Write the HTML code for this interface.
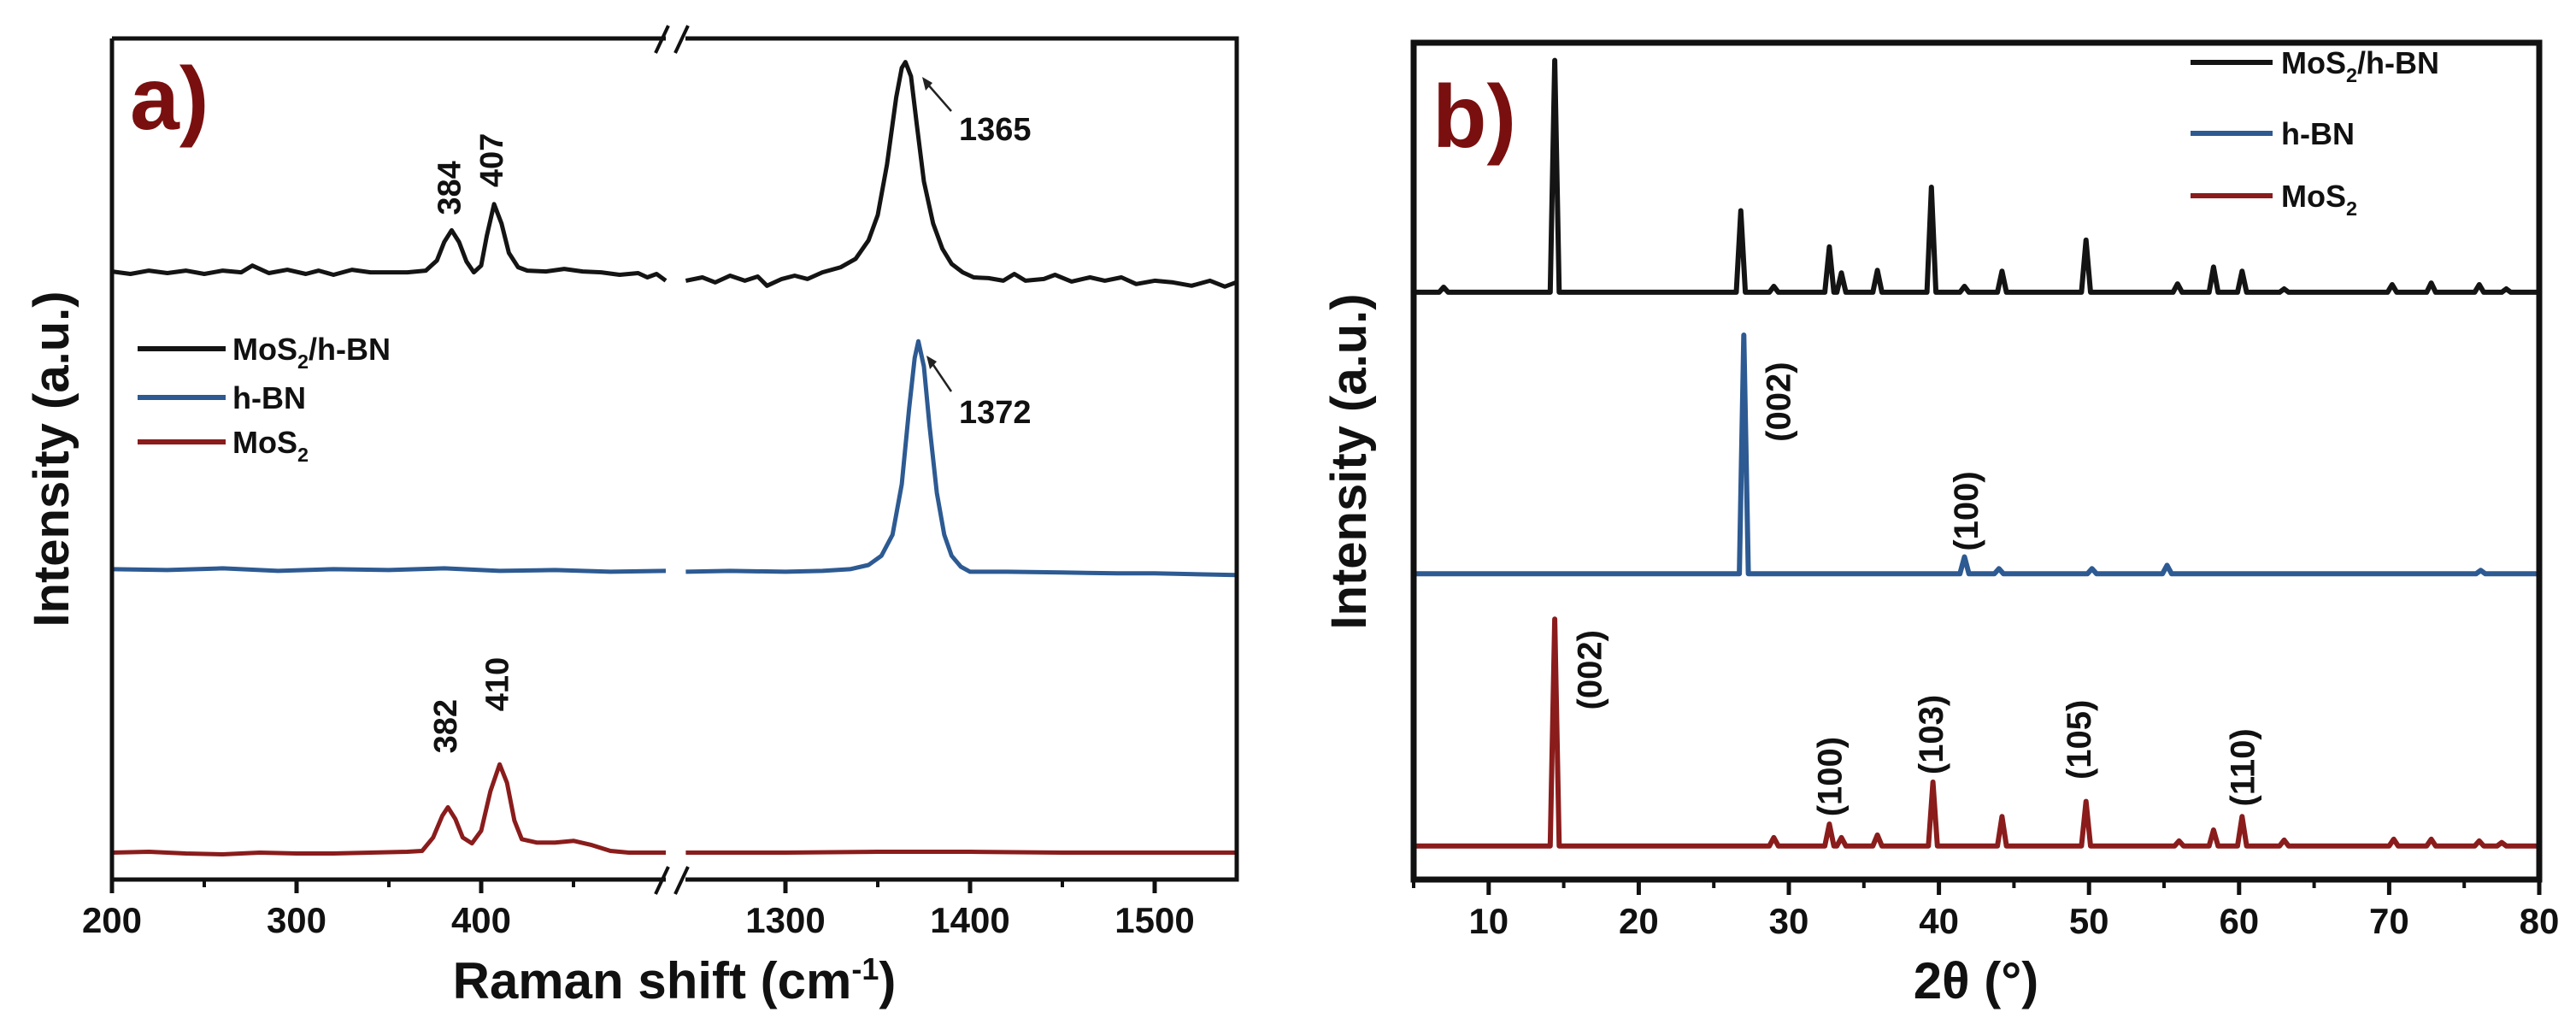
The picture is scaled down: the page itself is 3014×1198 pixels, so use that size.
<!DOCTYPE html>
<html><head><meta charset="utf-8"><style>
html,body{margin:0;padding:0;background:#fff;}
svg{display:block;font-family:"Liberation Sans",Arial,sans-serif;}
</style></head><body>
<svg id="fig" width="3014" height="1198" viewBox="0 0 3014 1198" xmlns="http://www.w3.org/2000/svg">
<rect width="3014" height="1198" fill="#fff"/>
<g id="pa"></g>
<g id="pb"></g>
</svg>
<script>
// ---------- Panel a data (Raman) ----------
const ramanTicks = [200, 300, 400, 1300, 1400, 1500];
const ramanMinorTicks = [250, 350, 450, 1350, 1450];
const blackLeftX = [200,210,220,230,240,250,260,270,276,285,295,305,312,320,330,340,350,360,370,376,380,384,388,392,396,400,403,407,411,415,420,425,435,445,455,465,475,485,490,495,500];
const blackLeftY = [723,720,724,721,724,720,724,722,730,721,725,720,724,719,725,722,722,722,724,736,758,772,758,735,722,730,765,803,780,745,728,724,723,726,723,722,719,721,716,720,712];
const blackRightX = [1246,1255,1262,1270,1278,1285,1290,1298,1305,1312,1320,1330,1338,1345,1350,1355,1360,1363,1365,1368,1371,1375,1380,1385,1390,1396,1402,1410,1418,1424,1430,1440,1446,1455,1465,1473,1482,1490,1500,1510,1520,1530,1538,1544];
const blackRightY = [712,716,710,718,712,717,706,714,718,714,722,728,738,760,790,850,930,965,972,955,900,830,780,750,732,722,716,715,712,720,712,714,719,711,716,712,716,708,712,710,706,712,705,710];
const blueLeftX = [200,230,260,290,320,350,380,410,440,470,500];
const blueLeftY = [369,368,370,367,369,368,370,367,368,366,367];
const blueRightX = [1246,1270,1300,1320,1335,1345,1352,1358,1363,1367,1370,1372,1375,1378,1382,1386,1390,1395,1400,1420,1450,1480,1500,1544];
const blueRightY = [366,367,366,367,369,374,385,410,470,560,620,640,610,540,460,410,385,372,366,366,365,364,364,362];
const redLeftX = [200,220,240,260,280,300,320,340,360,368,374,379,382,386,390,395,400,405,410,414,418,422,430,440,450,460,470,480,500];
const redLeftY = [32,33,31,30,32,31,31,32,33,34,50,76,86,72,50,43,58,105,137,115,70,48,44,44,46,41,34,32,32];
const redRightX = [1246,1300,1350,1400,1450,1500,1544];
const redRightY = [32,32,33,33,32,32,32];
const ramanLabels = ["384","407","382","410"];
const ramanLabelX = [384,407,382,410];
const ramanLabelV = [790,823,150,200];

// ---------- Panel b data (XRD) ----------
const xrdTicks = [10,20,30,40,50,60,70,80];
const xrdMinor = [5,15,25,35,45,55,65,75];
const compPeaksX = [7,14.4,26.8,29,32.7,33.5,35.9,39.5,41.7,44.2,49.8,55.9,58.3,60.2,63,70.2,72.8,76,77.8];
const compPeaksV = [705,975,796,706,753,722,725,824,706,724,761,709,729,724,703,708,710,708,703];
const compBase = 699;
const bnPeaksX = [27,41.7,44,50.2,55.2,76.1];
const bnPeaksV = [648,384,370,370,374,368];
const bnBase = 364;
const mosPeaksX = [14.4,29,32.7,33.5,35.9,39.6,44.2,49.8,56,58.3,60.2,63,70.3,72.8,76,77.5];
const mosPeaksV = [310,50,66,50,53,116,75,93,46,59,75,47,48,48,46,44];
const mosBase = 40;
const hklLabels = ["(002)","(100)","(002)","(100)","(103)","(105)","(110)"];
const hklX = [29.3,41.8,16.7,32.7,39.45,49.3,60.2];
const hklV = [521,391,202,75,125,119,87];

const NS = "http://www.w3.org/2000/svg";
function mk(tag, attrs, parent){const e=document.createElementNS(NS,tag);for(const k in attrs)e.setAttribute(k,attrs[k]);parent.appendChild(e);return e;}

// ===== Panel a =====
const pa = document.getElementById('pa');
const A = {l:131, r:1447, t:45, b:1029};
function xa(v){ return v<=500 ? 131 + (v-200)*2.16 : 919 + (v-1300)*2.16; }
function ya(v){ return A.b - v*0.984; }

function drawLine(g, xs, ys, xf, yf, color, w, name){
  let d='';
  for(let i=0;i<xs.length;i++){ d += (i?'L':'M') + xf(xs[i]).toFixed(1)+','+yf(ys[i]).toFixed(1); }
  const p = mk('path',{d:d,fill:'none',stroke:color,'stroke-width':w,'stroke-linejoin':'round'},g);
  
  
  return p;
}
const BLK='#141414', BLU='#2d5a92', RED='#8a1c1c';
drawLine(pa, blackLeftX, blackLeftY, xa, ya, BLK, 5, 'mos2-hbn-raman-low');
drawLine(pa, blackRightX, blackRightY, xa, ya, BLK, 5, 'mos2-hbn-raman-high');
drawLine(pa, blueLeftX, blueLeftY, xa, ya, BLU, 5, 'hbn-raman-low');
drawLine(pa, blueRightX, blueRightY, xa, ya, BLU, 5, 'hbn-raman-high');
drawLine(pa, redLeftX, redLeftY, xa, ya, RED, 5, 'mos2-raman-low');
drawLine(pa, redRightX, redRightY, xa, ya, RED, 5, 'mos2-raman-high');

const fa = mk('path',{d:`M${A.l},${A.t}H779 M802,${A.t}H${A.r}V${A.b}H802 M779,${A.b}H${A.l}Z`,fill:'none',stroke:'#111','stroke-width':5},pa);


mk('path',{d:`M${A.l},${A.b}V${A.t}`,stroke:'#111','stroke-width':5},pa);
['M767,1046L782,1014M790,1046L805,1014','M767,62L782,30M790,62L805,30'].forEach(d=>{
  const s=mk('path',{d:d,stroke:'#111','stroke-width':4},pa);
  
  
});
ramanTicks.forEach(v=>{
  mk('line',{x1:xa(v),x2:xa(v),y1:A.b,y2:A.b+16,stroke:'#111','stroke-width':5},pa);
  const t=mk('text',{x:xa(v),y:1091,'text-anchor':'middle','font-size':42,'font-weight':'bold',fill:'#111'},pa);
  t.textContent=v;
  
  
});
ramanMinorTicks.forEach(v=>{ mk('line',{x1:xa(v),x2:xa(v),y1:A.b,y2:A.b+9,stroke:'#111','stroke-width':4},pa); });

ramanLabels.forEach((s,i)=>{
  const x=xa(ramanLabelX[i])+10, y=ya(ramanLabelV[i]);
  const t=mk('text',{x:x,y:y,transform:`rotate(-90 ${x} ${y})`,'font-size':38,'font-weight':'bold',fill:'#111'},pa);
  t.textContent=s;
  
  
});
[[1113,130,1079,90,'1365',1122,164],[1113,458,1084,416,'1372',1122,495]].forEach(a=>{
  const l=mk('line',{x1:a[0],y1:a[1],x2:a[2]+6,y2:a[3]+8,stroke:'#222','stroke-width':2.5},pa);
  
  
  mk('path',{d:`M${a[2]},${a[3]} l4,16 l8,-9z`,fill:'#222'},pa);
  const t=mk('text',{x:a[5],y:a[6],'font-size':38,'font-weight':'bold',fill:'#111'},pa);
  t.textContent=a[4];
  
  
});
const la=mk('text',{x:152,y:151,'font-size':104,'font-weight':'bold',fill:'#7a0f0f'},pa);
la.textContent='a)';


function legend(g, x0, x1, tx, ys, fs){
  const items=[[BLK,'MoS','2','/h-BN'],[BLU,'h-BN','',''],[RED,'MoS','2','']];
  items.forEach((it,i)=>{
    const ent=mk('g',{},g);
    
    
    mk('line',{x1:x0,x2:x1,y1:ys[i],y2:ys[i],stroke:it[0],'stroke-width':6},ent);
    const t=mk('text',{x:tx,y:ys[i]+13,'font-size':fs,'font-weight':'bold',fill:'#111'},ent);
    const a=mk('tspan',{},t); a.textContent=it[1];
    if(it[2]){const s=mk('tspan',{dy:10,'font-size':fs*0.65},t); s.textContent=it[2];
      if(it[3]){const c=mk('tspan',{dy:-10},t); c.textContent=it[3];}}
  });
}
legend(pa,161,264,272,[408,465,517],36);
const ta=mk('text',{x:789,y:1168,'text-anchor':'middle','font-size':60,'font-weight':'bold',fill:'#111'},pa);
ta.innerHTML='Raman shift (cm<tspan dy="-22" font-size="36">-1</tspan><tspan dy="22">)</tspan>';


const tya=mk('text',{x:80,y:537,transform:'rotate(-90 80 537)','text-anchor':'middle','font-size':58,'font-weight':'bold',fill:'#111'},pa);
tya.textContent='Intensity (a.u.)';



// ===== Panel b =====
const pb=document.getElementById('pb');
const B={l:1654,r:2971,t:50,b:1029};
function xb(v){ return B.l + (v-5)*(B.r-B.l)/75; }
function yb(v){ return B.b - v*0.983; }
function xrdTrace(px, pv, base, w){
  const xs=[5], ys=[base];
  px.forEach((p,i)=>{ xs.push(p-w, p, p+w); ys.push(base, pv[i], base); });
  xs.push(80); ys.push(base);
  return [xs,ys];
}
let tr=xrdTrace(compPeaksX,compPeaksV,compBase,0.3);
drawLine(pb,tr[0],tr[1],xb,yb,BLK,6,'mos2-hbn-xrd');
tr=xrdTrace(bnPeaksX,bnPeaksV,bnBase,0.3);
drawLine(pb,tr[0],tr[1],xb,yb,BLU,6,'hbn-xrd');
tr=xrdTrace(mosPeaksX,mosPeaksV,mosBase,0.3);
drawLine(pb,tr[0],tr[1],xb,yb,RED,6,'mos2-xrd');

const fb=mk('rect',{x:B.l,y:B.t,width:B.r-B.l,height:B.b-B.t,fill:'none',stroke:'#111','stroke-width':7},pb);


xrdTicks.forEach(v=>{
  mk('line',{x1:xb(v),x2:xb(v),y1:B.b,y2:B.b+18,stroke:'#111','stroke-width':5},pb);
  const t=mk('text',{x:xb(v),y:1092,'text-anchor':'middle','font-size':42,'font-weight':'bold',fill:'#111'},pb);
  t.textContent=v;
  
  
});
xrdMinor.forEach(v=>{ mk('line',{x1:xb(v),x2:xb(v),y1:B.b,y2:B.b+10,stroke:'#111','stroke-width':4},pb); });
hklLabels.forEach((s,i)=>{
  const x=xb(hklX[i])+14, y=yb(hklV[i]);
  const t=mk('text',{x:x,y:y,transform:`rotate(-90 ${x} ${y})`,'font-size':40,'font-weight':'bold',fill:'#111'},pb);
  t.textContent=s;
  
  
});
const lb=mk('text',{x:1676,y:172,'font-size':104,'font-weight':'bold',fill:'#7a0f0f'},pb);
lb.textContent='b)';


legend(pb,2563,2659,2669,[73,156,229],36);
const tb=mk('text',{x:2312,y:1168,'text-anchor':'middle','font-size':60,'font-weight':'bold',fill:'#111'},pb);
tb.textContent='2θ (°)';


const tyb=mk('text',{x:1598,y:540,transform:'rotate(-90 1598 540)','text-anchor':'middle','font-size':58,'font-weight':'bold',fill:'#111'},pb);
tyb.textContent='Intensity (a.u.)';


</script>
</body></html>
